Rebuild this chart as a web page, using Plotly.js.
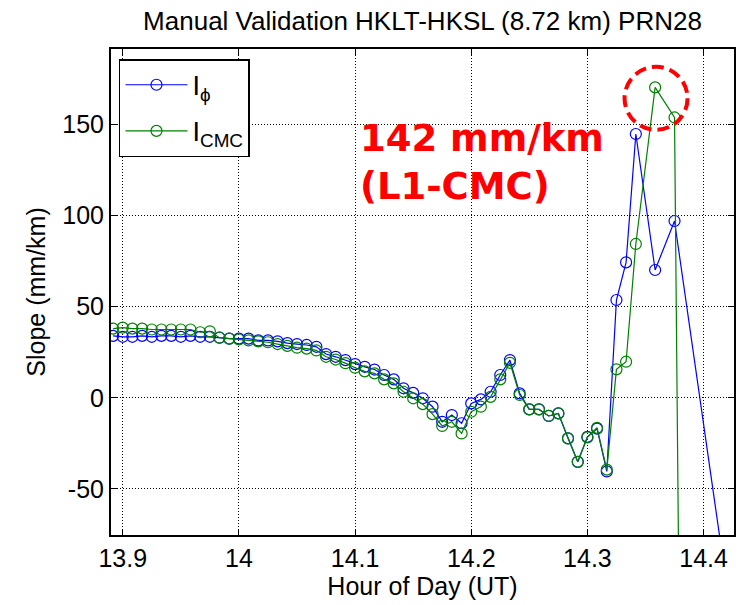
<!DOCTYPE html>
<html>
<head>
<meta charset="utf-8">
<script src="https://cdn.plot.ly/plotly-3.0.1.min.js"></script>
<style>html,body{margin:0;padding:0;background:#fff;}#chart{width:740px;height:605px;}</style>
</head>
<body>
<div id="chart"></div>
<script>
// Hour of day (UT) for each epoch of the blue series (I_phi)
const hoursPhi = [13.8917,13.9,13.9083,13.9167,13.925,13.9333,13.9417,13.95,13.9583,13.9667,13.975,13.9833,13.9917,14.0,14.0083,14.0167,14.025,14.0333,14.0417,14.05,14.0583,14.0667,14.075,14.0833,14.0917,14.1,14.1083,14.1167,14.125,14.1333,14.1417,14.15,14.1583,14.1667,14.175,14.1833,14.1917,14.2,14.2083,14.2167,14.225,14.2333,14.2417,14.25,14.2583,14.2667,14.275,14.2833,14.2917,14.3,14.3083,14.3167,14.325,14.3333,14.3417,14.3583,14.375,14.4333];
const slopePhi = [34,33.5,33.5,34,33.5,34,34,33.5,34,33.5,33.5,33,32.5,32.5,32.5,31.5,31.5,31,30,29.5,29,28,24,22.5,20.7,18.5,17,15.5,12.5,10.1,5.2,2.7,-0.3,-4.9,-13.2,-9.5,-14,-3.1,-0.9,3.3,12.5,20.7,2.4,-6.4,-6.4,-10,-8.6,-22.3,-35.2,-21.5,-17,-40.5,53.7,74.4,144.9,70.2,97.1,-163];
// Hour of day (UT) for each epoch of the green series (I_CMC)
const hoursCmc = [13.8917,13.9,13.9083,13.9167,13.925,13.9333,13.9417,13.95,13.9583,13.9667,13.975,13.9833,13.9917,14.0,14.0083,14.0167,14.025,14.0333,14.0417,14.05,14.0583,14.0667,14.075,14.0833,14.0917,14.1,14.1083,14.1167,14.125,14.1333,14.1417,14.15,14.1583,14.1667,14.175,14.1833,14.1917,14.2,14.2083,14.2167,14.225,14.2333,14.2417,14.25,14.2583,14.2667,14.275,14.2833,14.2917,14.3,14.3083,14.3167,14.325,14.3333,14.3417,14.3583,14.375,14.3833];
const slopeCmc = [38,38.5,38,38,37.5,37.5,37.5,37.5,37.5,36,36.5,33,32.5,32,31.5,31,30.5,29.5,28.5,27.5,27,26,22.5,21,19,16.5,14.5,13.4,10.1,7.9,3.3,-0.3,-3.5,-9,-15.5,-13.2,-19.6,-7.7,-4.9,0.5,10.1,19.2,1.5,-6.4,-6.4,-10,-8.6,-22.3,-35.2,-21.8,-16.5,-39.5,15.6,19.8,84.5,170.5,154,-420];

const xTicks = [13.9,14.0,14.1,14.2,14.3,14.4];
const xTickText = ['13.9','14','14.1','14.2','14.3','14.4'];
const yTicks = [-50,0,50,100,150];
const yTickText = ['-50','0','50','100','150'];

const FONT = 'Liberation Sans, Arial, Helvetica, sans-serif';

const traces = [
  {x: hoursPhi, y: slopePhi, name: 'I<sub>ϕ</sub>', legendgroup: 'phi', type: 'scatter', mode: 'lines+markers',
   line: {color: '#0000ff', width: 1.2},
   marker: {symbol: 'circle-open', size: 11, color: '#0000ff', line: {width: 1.2, color: '#0000ff'}}},
  {x: hoursCmc, y: slopeCmc, name: 'I<sub>CMC</sub>', legendgroup: 'cmc', type: 'scatter', mode: 'lines+markers',
   line: {color: '#008000', width: 1.2},
   marker: {symbol: 'circle-open', size: 11, color: '#008000', line: {width: 1.2, color: '#008000'}}}
];

const axisCommon = {
  showline: true, linecolor: '#000', linewidth: 2, mirror: 'ticks',
  ticks: 'inside', ticklen: 6, tickwidth: 1, tickcolor: '#000',
  showgrid: true, gridcolor: '#000', gridwidth: 1, griddash: '1px,2px',
  zeroline: false, tickfont: {family: FONT, size: 25, color: '#000'}
};

const layout = {
  width: 740, height: 605,
  paper_bgcolor: '#fff', plot_bgcolor: '#fff',
  margin: {l: 111, r: 6, t: 49, b: 70},
  showlegend: true,
  title: {text: 'Manual Validation HKLT-HKSL (8.72 km) PRN28',
          font: {family: FONT, size: 26, color: '#000'},
          x: 0.5, xref: 'paper', xanchor: 'center', y: 0.966, yanchor: 'middle'},
  xaxis: Object.assign({}, axisCommon, {
    range: [13.8899, 14.4262], tickvals: xTicks, ticktext: xTickText,
    title: {text: 'Hour of Day (UT)', font: {family: FONT, size: 25, color: '#000'}, standoff: 4}
  }),
  yaxis: Object.assign({}, axisCommon, {
    range: [-75.4, 191.6], tickvals: yTicks, ticktext: yTickText,
    title: {text: 'Slope (mm/km)', font: {family: FONT, size: 25, color: '#000'}, standoff: 10}
  }),
  legend: {
    x: 0.0128, y: 0.979, xanchor: 'left', yanchor: 'top',
    bgcolor: '#fff', bordercolor: '#000', borderwidth: 1.5,
    font: {family: FONT, size: 27, color: '#000'},
    traceorder: 'grouped', itemwidth: 62, tracegroupgap: 8
  },
  annotations: [
    {xref: 'paper', yref: 'paper', x: (358 - 111) / 623, y: (535 - 162) / 486,
     xanchor: 'left', yanchor: 'middle', align: 'left', showarrow: false,
     text: '142 mm/km<br>(L1-CMC)',
     font: {family: 'DejaVu Sans, sans-serif', size: 37, color: '#ff0000', weight: 'bold'}}
  ],
  shapes: [
    {type: 'circle', xref: 'x', yref: 'y', xsizemode: 'pixel', ysizemode: 'pixel',
     xanchor: 14.3591, yanchor: 164.5, x0: -31.5, x1: 31.5, y0: -31.5, y1: 31.5,
     line: {color: '#ff0000', width: 4, dash: '12px,6px'}}
  ]
};

Plotly.newPlot('chart', traces, layout, {displayModeBar: false, staticPlot: true});
</script>
</body>
</html>
